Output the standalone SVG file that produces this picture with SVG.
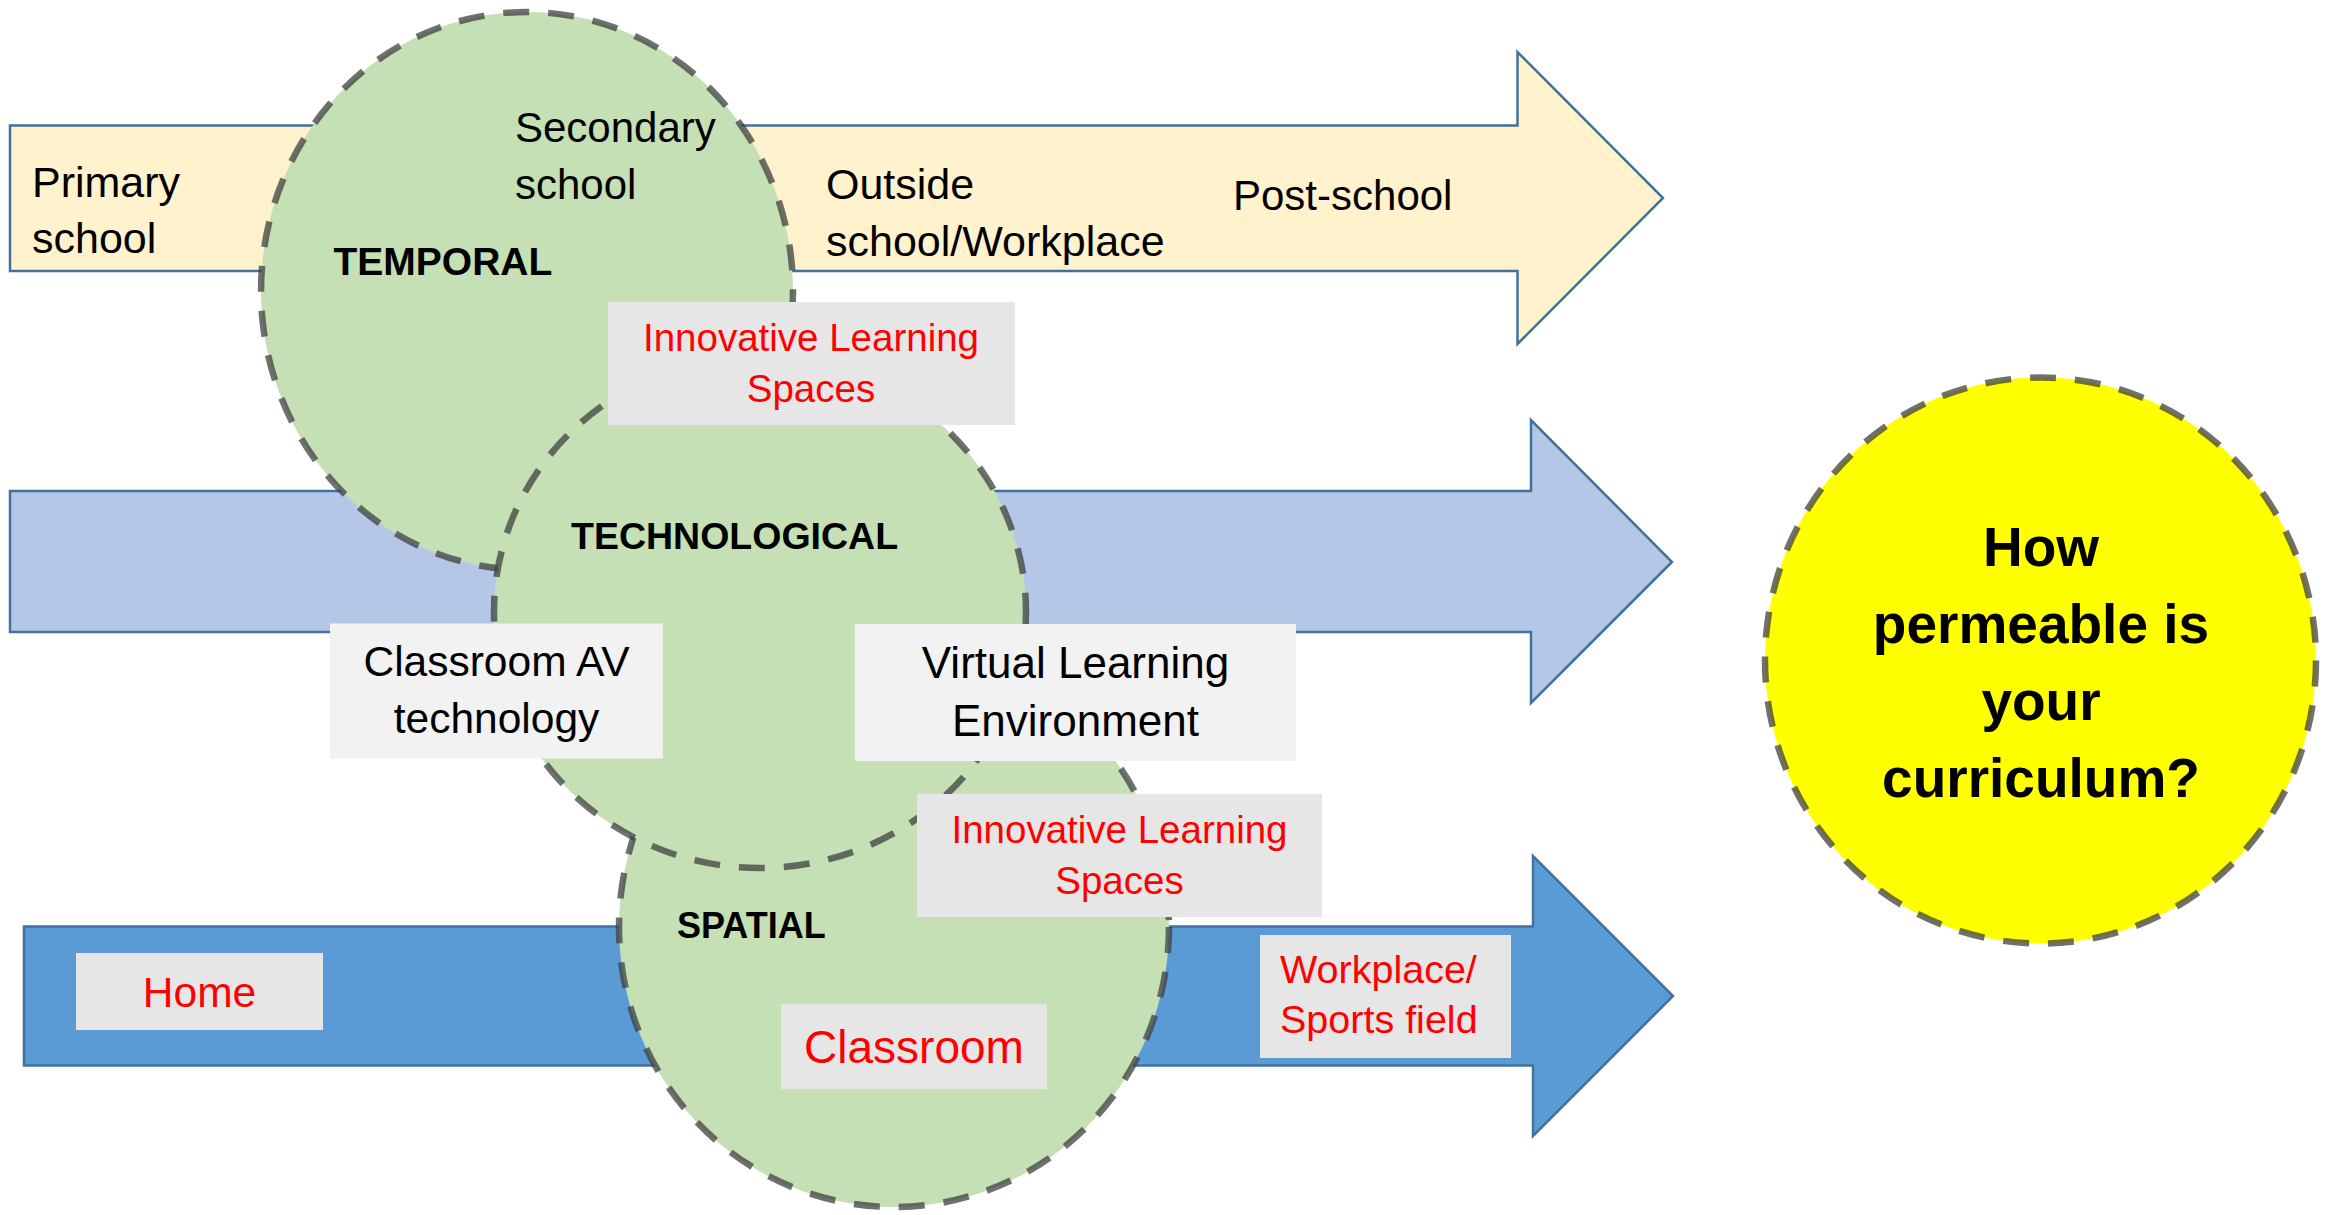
<svg xmlns="http://www.w3.org/2000/svg" width="2336" height="1215" viewBox="0 0 2336 1215">
<style>
.arrow{stroke:#41719C;stroke-width:2.5;stroke-linejoin:miter}
.circ{stroke:#404040;stroke-opacity:0.75;stroke-width:6.5;stroke-dasharray:26 19}
.green{fill:#C5E0B4}
.t{font-family:"Liberation Sans",Arial,sans-serif;fill:#000}
.red{fill:#FF0000}
.b{font-weight:bold}
.c{text-anchor:middle}
.box1{fill:#E6E6E6}
.box2{fill:#F2F2F2}
</style>
<rect width="2336" height="1215" fill="#FFFFFF"/>
<g id="connectors">
<path id="arrow-temporal" class="arrow" fill="#FFF2CC" d="M10,125.5 H1517.5 V52 L1663,198 L1517.5,344 V271 H10 Z"/>
<path id="arrow-technological" class="arrow" fill="#B4C7E7" d="M10,491 H1531 V420 L1672,562 L1531,703 V632 H10 Z"/>
<path id="arrow-spatial" class="arrow" fill="#5B9BD5" d="M24,926.5 H1533 V856 L1673,996 L1533,1136 V1065.5 H24 Z"/>
</g>
<g id="arrow-labels">
<text class="t" font-size="43" x="32" y="197">Primary</text>
<text class="t" font-size="43" x="32" y="253">school</text>
<text class="t" font-size="43" x="826" y="199">Outside</text>
<text class="t" font-size="43" x="826" y="256">school/Workplace</text>
<text class="t" font-size="42" x="1233" y="210">Post-school</text>
</g>
<g id="spatial">
<ellipse class="green circ" cx="894" cy="927" rx="275" ry="280"/>
<text class="t b" font-size="36" x="677" y="938">SPATIAL</text>
</g>
<g id="temporal">
<ellipse class="green circ" cx="527" cy="291" rx="266" ry="279"/>
<text class="t" font-size="42" x="515" y="141.5">Secondary</text>
<text class="t" font-size="42" x="515" y="199">school</text>
<text class="t b" font-size="39" x="333.5" y="275">TEMPORAL</text>
</g>
<g id="technological">
<ellipse class="green circ" cx="760" cy="612" rx="266" ry="256"/>
<text class="t b" font-size="37.5" x="571" y="549">TECHNOLOGICAL</text>
</g>
<g id="ils-top">
<rect class="box1" x="608" y="302" width="407" height="123"/>
<text class="t red c" font-size="38.5" x="811" y="351">Innovative Learning</text>
<text class="t red c" font-size="38.5" x="811" y="402">Spaces</text>
</g>
<g id="classroom-av">
<rect class="box2" x="330" y="623.5" width="333" height="135"/>
<text class="t c" font-size="42.5" x="496.5" y="675.5">Classroom AV</text>
<text class="t c" font-size="42.5" x="496.5" y="733">technology</text>
</g>
<g id="vle">
<rect class="box2" x="855" y="624" width="441" height="137"/>
<text class="t c" font-size="44" x="1075.5" y="678">Virtual Learning</text>
<text class="t c" font-size="44" x="1075.5" y="736">Environment</text>
</g>
<g id="ils-bottom">
<rect class="box1" x="917" y="794" width="405" height="123"/>
<text class="t red c" font-size="38.5" x="1119.5" y="843">Innovative Learning</text>
<text class="t red c" font-size="38.5" x="1119.5" y="894">Spaces</text>
</g>
<g id="home">
<rect class="box1" x="76" y="953" width="247" height="77"/>
<text class="t red c" font-size="42.5" x="199.5" y="1007">Home</text>
</g>
<g id="classroom">
<rect class="box1" x="781" y="1004" width="266" height="85"/>
<text class="t red c" font-size="46" x="914" y="1063">Classroom</text>
</g>
<g id="workplace">
<rect class="box1" x="1260" y="935" width="251" height="123"/>
<text class="t red" font-size="39.5" x="1280" y="983">Workplace/</text>
<text class="t red" font-size="39.5" x="1280" y="1033">Sports field</text>
</g>
<g id="question">
<ellipse class="circ" fill="#FFFF00" cx="2040.5" cy="660.5" rx="275.5" ry="283"/>
<text class="t b c" font-size="55" x="2041" y="565.5">How</text>
<text class="t b c" font-size="55" x="2041" y="642.5">permeable is</text>
<text class="t b c" font-size="55" x="2041" y="719.5">your</text>
<text class="t b c" font-size="55" x="2041" y="796.5">curriculum?</text>
</g>
</svg>
